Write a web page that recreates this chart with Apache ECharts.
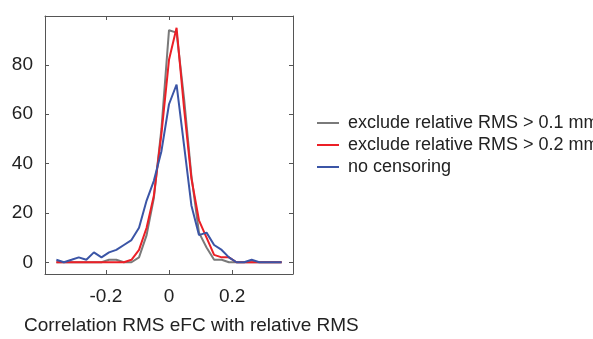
<!DOCTYPE html>
<html>
<head>
<meta charset="utf-8">
<script src="https://cdn.jsdelivr.net/npm/echarts@6/dist/echarts.min.js"></script>
<style>html,body{margin:0;padding:0;background:#fff}#c{width:593px;height:339px}</style>
</head>
<body>
<div id="c"></div>
<script>
// bin centres (x) and counts
const xValues = [-0.357,-0.333,-0.309,-0.286,-0.262,-0.238,-0.214,-0.190,-0.167,-0.143,-0.119,-0.095,-0.071,-0.048,-0.024,0.000,0.024,0.048,0.071,0.095,0.119,0.143,0.167,0.190,0.214,0.238,0.262,0.286,0.309,0.333,0.357];
const excl01 = [0,0,0,0,0,0,0,1,1,0,0,2,11,26,54,94,93,66,35,12,6,1,1,0,0,0,0,0,0,0,0];
const excl02 = [0,0,0,0,0,0,0,0,0,0,1,5,14,27,52,82,95,62,34,17,10,3,2,2,0,0,0,0,0,0,0];
const noCens = [1,0,1,2,1,4,2,4,5,7,9,14,25,33,45,64,72,47,23,11,12,7,5,2,0,0,1,0,0,0,0];
const seriesNames = ['exclude relative RMS > 0.1 mm','exclude relative RMS > 0.2 mm','no censoring'];
const xTicks = [-0.2, 0, 0.2];
const yTicks = [0, 20, 40, 60, 80];
const xLabel = 'Correlation RMS eFC with relative RMS';

const FONT = '"Liberation Sans", Arial, Helvetica, sans-serif';
const pair = (ys) => xValues.map((x, i) => [x, ys[i]]);
const axisLineStyle = {show: true, onZero: false, lineStyle: {color: '#555', width: 1}};
const tickStyle = {inside: true, length: 4, lineStyle: {color: '#555', width: 1}};
const XMIN = -0.393, XMAX = 0.393, YMIN = -4.75, YMAX = 99.75;

const chart = echarts.init(document.getElementById('c'), null, {renderer: 'canvas'});
chart.setOption({
  animation: false,
  backgroundColor: '#fff',
  title: {text: xLabel, left: 24, top: 316, padding: 0, textStyle: {fontFamily: FONT, fontSize: 19, fontWeight: 'normal', color: '#222'}},
  grid: {left: 45, right: 300, top: 16, bottom: 65, containLabel: false},
  legend: {
    orient: 'vertical', left: 312, top: 109, itemWidth: 22, itemHeight: 12, itemGap: 4,
    data: seriesNames, icon: 'path://M0,5 L22,5 L22,7 L0,7 Z',
    textStyle: {fontFamily: FONT, fontSize: 18, lineHeight: 18, color: '#222', padding: [0,0,0,4]}
  },
  xAxis: [
    {type: 'value', min: XMIN, max: XMAX, position: 'bottom',
     axisLine: axisLineStyle, axisTick: Object.assign({customValues: xTicks}, tickStyle),
     splitLine: {show: false},
     axisLabel: {customValues: xTicks, margin: 13, fontFamily: FONT, fontSize: 19, color: '#222',
       formatter: v => (Math.abs(v) < 1e-9 ? '0' : String(v))}},
    {type: 'value', min: XMIN, max: XMAX, position: 'top',
     axisLine: axisLineStyle, axisTick: Object.assign({customValues: xTicks}, tickStyle),
     splitLine: {show: false}, axisLabel: {show: false}}
  ],
  yAxis: [
    {type: 'value', min: YMIN, max: YMAX, position: 'left',
     axisLine: axisLineStyle, axisTick: Object.assign({customValues: yTicks}, tickStyle),
     splitLine: {show: false},
     axisLabel: {customValues: yTicks, margin: 12, fontFamily: FONT, fontSize: 19, color: '#222'}},
    {type: 'value', min: YMIN, max: YMAX, position: 'right',
     axisLine: axisLineStyle, axisTick: Object.assign({customValues: yTicks}, tickStyle),
     splitLine: {show: false}, axisLabel: {show: false}}
  ],
  series: [
    {name: seriesNames[0], type: 'line', data: pair(excl01), symbol: 'none', color: '#7a7a7a', lineStyle: {width: 2, color: '#7a7a7a'}},
    {name: seriesNames[1], type: 'line', data: pair(excl02), symbol: 'none', color: '#ec1f26', lineStyle: {width: 2, color: '#ec1f26'}},
    {name: seriesNames[2], type: 'line', data: pair(noCens), symbol: 'none', color: '#3b55a6', lineStyle: {width: 2, color: '#3b55a6'}}
  ]
});
</script>
</body>
</html>
